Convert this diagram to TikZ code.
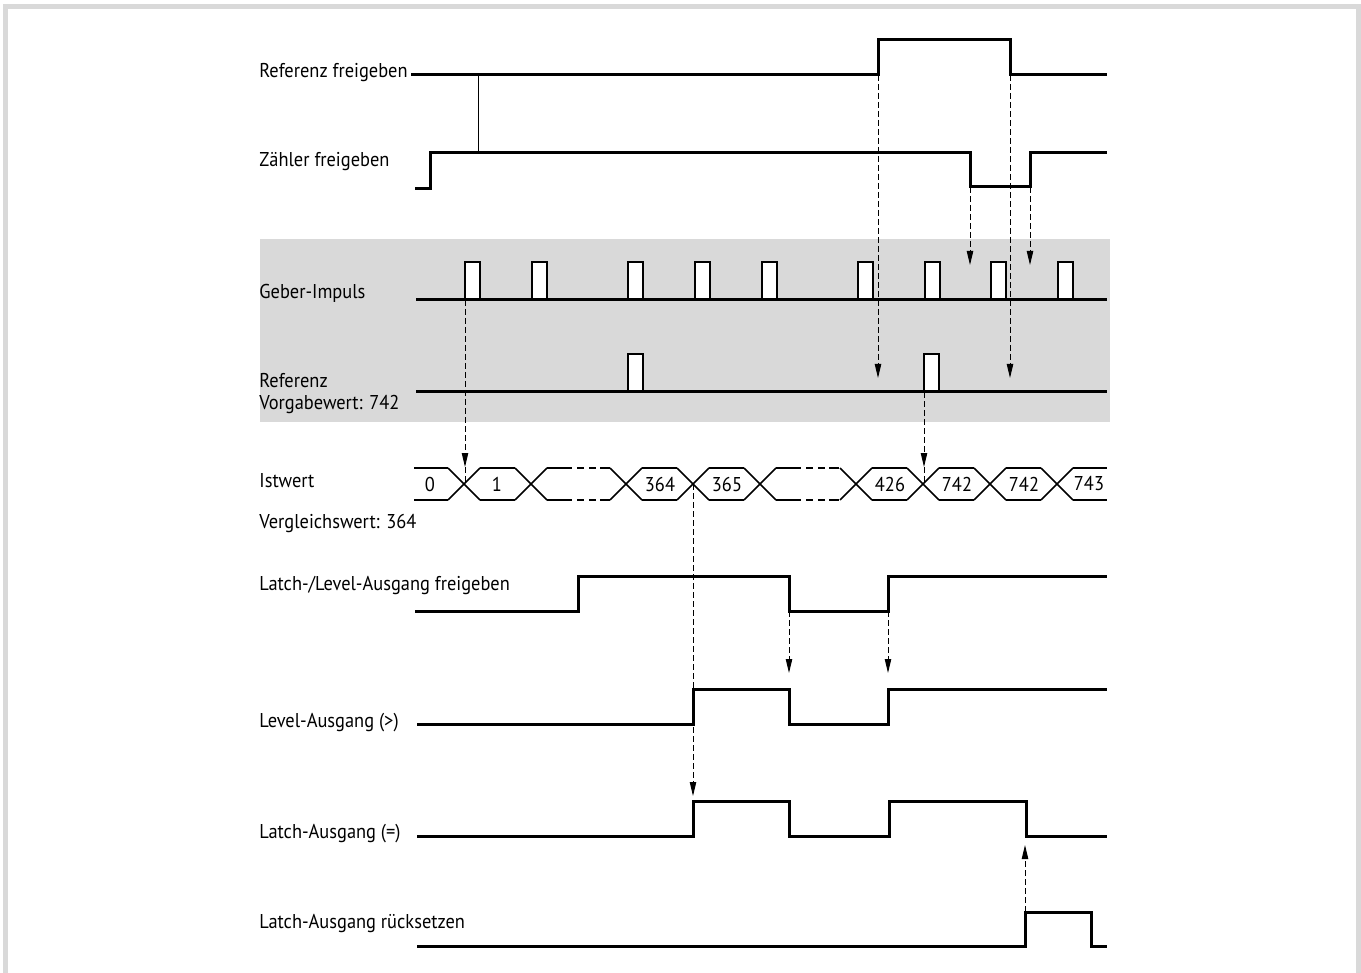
\documentclass[tikz,border=0pt]{standalone}
\usepackage{fontspec}
\setmainfont{PT Sans}[FakeStretch=0.92]
\usetikzlibrary{arrows.meta}

\begin{document}
\begin{tikzpicture}[x=0.5pt,y=-0.5pt,
  every node/.style={font=\fontsize{10}{11}\selectfont,inner sep=0pt},
  signal/.style={line width=1.5pt,line join=miter},
  puls/.style={draw,fill=white,line width=0.8pt},
  bus/.style={line width=0.8pt},
  pfeil/.style={line width=0.5pt,dash pattern=on 3pt off 1.5pt,-{Triangle[length=7pt,width=3.2pt]}},
  hilfslinie/.style={line width=0.5pt,dash pattern=on 3pt off 1.5pt}]
\useasboundingbox (0,0) rectangle (1361,973);
\draw[black!15,line width=2.5pt] (5.5,973) -- (5.5,6.5) -- (1358.5,6.5) -- (1358.5,973);

% Freigaben
\node[anchor=west] (lblref) at (259,73) {Referenz freigeben};
\node[anchor=west] (lblzaehl) at (259,162) {Zähler freigeben};
\draw[signal] (411,75) -- (878,75) -- (878,40) -- (1010,40) -- (1010,75) -- (1107,75);
\draw[signal] (415,189) -- (430,189) -- (430,153) -- (970,153) -- (970,187) -- (1030,187) -- (1030,153) -- (1107,153);
\draw[line width=0.5pt] (478,75) -- (478,153);

% Geber und Referenz
\fill[black!15] (260,239) rectangle (1110,422);
\node[anchor=west] (lblgeber) at (259,293) {Geber-Impuls};
\node[anchor=west,align=left] (lblrefp) at (259,394) {Referenz\\Vorgabewert: 742};
\foreach \x in {465,532,628,695,762,858,925,991,1058}
  \draw[puls] (\x,262) rectangle ++(15,38);
\foreach \x in {628,924}
  \draw[puls] (\x,354) rectangle ++(15,38);
\draw[signal] (416,300) -- (1107,300);
\draw[signal] (416,392) -- (1107,392);

% Istwert
\node[anchor=west] (lblist) at (259,481) {Istwert};
\node[anchor=west] (lblvgl) at (259,523) {Vergleichswert: 364};
\foreach \x in {464,531,626,693,760,856,923,990,1057} {
  \draw[bus] (\x-16,468) -- (\x+16,500);
  \draw[bus] (\x-16,500) -- (\x+16,468);
}
\foreach \a/\b in {414/448,480/515,642/677,709/744,872/907,939/974,1006/1041,1073/1107} {
  \draw[bus] (\a,468) -- (\b,468);
  \draw[bus] (\a,500) -- (\b,500);
}
\foreach \a in {547,776} {
  \foreach \y in {468,500} {
    \draw[bus] (\a,\y) -- (\a+18,\y);
    \draw[bus,dash pattern=on 3.5pt off 2.5pt] (\a+18,\y) -- (\a+53,\y);
    \draw[bus] (\a+53,\y) -- (\a+63,\y);
  }
}
\foreach \x/\w [count=\i] in {430/0,497/1,660/364,727/365,890/426,957/742,1024/742,1089/743}
  \node (wert\i) at (\x,484) {\w};

% Ausgaenge
\node[anchor=west] (lbllatchfrei) at (259,585) {Latch-/Level-Ausgang freigeben};
\node[anchor=west] (lbllevel) at (259,723) {Level-Ausgang (>)};
\node[anchor=west] (lbllatch) at (259,834) {Latch-Ausgang (=)};
\node[anchor=west] (lblreset) at (259,924) {Latch-Ausgang rücksetzen};
\draw[signal] (415,611) -- (578,611) -- (578,576) -- (789,576) -- (789,611) -- (888,611) -- (888,576) -- (1107,576);
\draw[signal] (417,724) -- (693,724) -- (693,689) -- (789,689) -- (789,724) -- (888,724) -- (888,689) -- (1107,689);
\draw[signal] (417,836) -- (693,836) -- (693,801) -- (789,801) -- (789,836) -- (889,836) -- (889,801) -- (1026,801) -- (1026,836) -- (1107,836);
\draw[signal] (417,946) -- (1025,946) -- (1025,912) -- (1091,912) -- (1091,946) -- (1107,946);

% Pfeile
\foreach \n/\x/\ya/\yb in {refauf/878/75/378, refab/1010/75/378, zaehlab/970/187/265, zaehlauf/1030/187/265,
    geber/465/300/467, refpuls/924/392/467, vergleich/693/484/796,
    freiab/789/611/673, freiauf/888/611/673, reset/1025/912/845} {
  \coordinate (\n a) at (\x,\ya);
  \coordinate (\n b) at (\x,\yb);
  \draw[pfeil] (\n a) -- (\n b);
}
\coordinate (geberc) at (465,484);
\coordinate (refpulsc) at (924,484);
\draw[hilfslinie] (geberb) -- (geberc);
\draw[hilfslinie] (refpulsb) -- (refpulsc);
\end{tikzpicture}
\end{document}
